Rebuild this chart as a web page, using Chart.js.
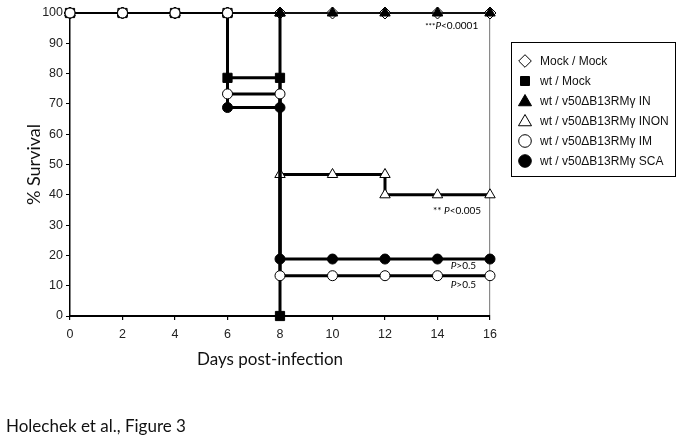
<!DOCTYPE html>
<html>
<head>
<meta charset="utf-8">
<script src="https://cdn.jsdelivr.net/npm/chart.js@4"></script>
<style>
  html, body { margin: 0; padding: 0; background: #fff; }
  canvas { display: block; }
</style>
</head>
<body>
<canvas id="surv" width="683" height="442"></canvas>
<script>
// Kaplan-Meier steps (day, % survival)
const mockMockDays = [0, 2, 4, 6, 8, 10, 12, 14, 16];
const mockMockSurv = [100, 100, 100, 100, 100, 100, 100, 100, 100];
const wtMockDays = [0, 2, 4, 6, 6, 8, 8];
const wtMockSurv = [100, 100, 100, 100, 78.6, 78.6, 0];
const inDays = [0, 2, 4, 6, 8, 10, 12, 14, 16];
const inSurv = [100, 100, 100, 100, 100, 100, 100, 100, 100];
const inonDays = [0, 2, 4, 6, 8, 8, 10, 12, 12, 14, 16];
const inonSurv = [100, 100, 100, 100, 100, 46.7, 46.7, 46.7, 40, 40, 40];
const imDays = [0, 2, 4, 6, 6, 8, 8, 10, 12, 14, 16];
const imSurv = [100, 100, 100, 100, 73.3, 73.3, 13.3, 13.3, 13.3, 13.3, 13.3];
const scaDays = [0, 2, 4, 6, 6, 8, 8, 10, 12, 14, 16];
const scaSurv = [100, 100, 100, 100, 68.8, 68.8, 18.8, 18.8, 18.8, 18.8, 18.8];

const seriesNames = [
  "Mock / Mock",
  "wt / Mock",
  "wt / v50ΔB13RMγ IN",
  "wt / v50ΔB13RMγ INON",
  "wt / v50ΔB13RMγ IM",
  "wt / v50ΔB13RMγ SCA"
];

const pLabels = ["***", "P", "<0.0001", "** ", "P", "<0.005", "P", ">0.5"];

// look of each series (same order as seriesNames)
const looks = [
  { shape: "rectRot", r: 6, fill: "#fff", width: 1.5, order: 5 },
  { shape: "rect", r: 6.5, fill: "#000", width: 3, order: 4 },
  { shape: "triangle", r: 6, fill: "#000", width: 1.5, order: 1 },
  { shape: "triangle", r: 6, fill: "#fff", width: 3, order: 3 },
  { shape: "circle", r: 5, fill: "#fff", width: 3, order: 0 },
  { shape: "circle", r: 5, fill: "#000", width: 3, order: 2 }
];

const allDays = [mockMockDays, wtMockDays, inDays, inonDays, imDays, scaDays];
const allSurv = [mockMockSurv, wtMockSurv, inSurv, inonSurv, imSurv, scaSurv];

const datasets = seriesNames.map((name, i) => {
  const lk = looks[i];
  return {
    label: name,
    data: allDays[i].map((d, j) => ({ x: d, y: allSurv[i][j] })),
    borderColor: "#000",
    borderWidth: lk.width,
    pointStyle: lk.shape,
    pointRadius: lk.r,
    pointBackgroundColor: lk.fill,
    pointBorderColor: "#000",
    pointBorderWidth: 1,
    order: lk.order,
    clip: false,
    segment: {
      // the shared 100 % line is drawn thin
      borderWidth: c => (c.p0.parsed.y === 100 && c.p1.parsed.y === 100) ? 1.5 : lk.width
    }
  };
});

function mark(ctx, shape, x, y, r, fill) {
  ctx.beginPath();
  if (shape === "circle") {
    ctx.arc(x, y, r, 0, Math.PI * 2);
  } else if (shape === "rect") {
    ctx.rect(x - r, y - r, 2 * r, 2 * r);
  } else if (shape === "rectRot") {
    ctx.moveTo(x, y - r); ctx.lineTo(x + r, y); ctx.lineTo(x, y + r); ctx.lineTo(x - r, y);
    ctx.closePath();
  } else if (shape === "triangle") {
    ctx.moveTo(x, y - r); ctx.lineTo(x + r * 0.87, y + r * 0.5); ctx.lineTo(x - r * 0.87, y + r * 0.5);
    ctx.closePath();
  }
  ctx.fillStyle = fill;
  ctx.fill();
  ctx.lineWidth = 1;
  ctx.strokeStyle = "#000";
  ctx.stroke();
}

// draw text runs right-aligned at (x, y), some italic
function runs(ctx, parts, x, y, size) {
  let w = 0;
  parts.forEach(p => {
    ctx.font = (p.i ? "italic " : "") + (p.s || size) + "px Lato";
    w += ctx.measureText(p.t).width;
  });
  let cx = x - w;
  parts.forEach(p => {
    ctx.font = (p.i ? "italic " : "") + (p.s || size) + "px Lato";
    ctx.fillText(p.t, cx, y);
    cx += ctx.measureText(p.t).width;
  });
}

const notes = [
  { parts: [{ t: pLabels[0], s: 8 }, { t: pLabels[1], i: true }, { t: pLabels[2] }], day: 15.55, surv: 95.7 },
  { parts: [{ t: pLabels[3] }, { t: pLabels[4], i: true }, { t: pLabels[5] }], day: 15.66, surv: 34.7 },
  { parts: [{ t: pLabels[6], i: true }, { t: pLabels[7] }], day: 15.47, surv: 16.5 },
  { parts: [{ t: pLabels[6], i: true }, { t: pLabels[7] }], day: 15.47, surv: 10.2 }
];

const extras = {
  id: "extras",
  afterDraw(chart) {
    const ctx = chart.ctx;
    const sx = chart.scales.x, sy = chart.scales.y;
    ctx.save();
    ctx.fillStyle = "#000";
    ctx.textBaseline = "middle";
    notes.forEach(n => runs(ctx, n.parts, sx.getPixelForValue(n.day), sy.getPixelForValue(n.surv), 10));

    // x axis title
    ctx.font = "17px Lato";
    ctx.textAlign = "center";
    ctx.fillStyle = "#111";
    ctx.fillText("Days post-infection", (chart.chartArea.left + chart.chartArea.right) / 2 - 10, 360);

    // caption
    ctx.textAlign = "left";
    ctx.font = "17px Lato";
    ctx.fillText("Holechek et al., Figure 3", 6, 427);

    // legend box
    ctx.lineWidth = 1;
    ctx.strokeStyle = "#000";
    ctx.strokeRect(511.5, 42.5, 164, 134);
    ctx.font = "12px 'Liberation Sans'";
    seriesNames.forEach((name, i) => {
      const y = 61 + i * 20;
      const lk = looks[i];
      const r = lk.shape === "rect" ? 4.5 : lk.shape === "triangle" ? 7.5 : 6.3;
      mark(ctx, lk.shape, 525, lk.shape === "triangle" ? y + 1 : y, r, lk.fill);
      ctx.fillStyle = "#111";
      ctx.fillText(name, 540, y + 1);
    });
    ctx.restore();
  }
};

new Chart(document.getElementById("surv"), {
  type: "line",
  data: { datasets },
  options: {
    responsive: false,
    animation: false,
    devicePixelRatio: 1,
    layout: { padding: { left: 0, right: 193, top: 13, bottom: 0 } },
    plugins: { legend: { display: false }, tooltip: { enabled: false } },
    elements: { line: { tension: 0 } },
    scales: {
      x: {
        type: "linear",
        min: 0, max: 16,
        afterFit: s => { s.height = 126; },
        ticks: { stepSize: 2, padding: 7, color: "#222", font: { family: "Liberation Sans", size: 12.5 } },
        grid: {
          drawOnChartArea: true,
          color: c => c.tick && c.tick.value === 16 ? "#8a8a8a" : "rgba(0,0,0,0)",
          lineWidth: 1.2,
          tickColor: "#000",
          tickLength: 4
        },
        border: { color: "#000", width: 2 }
      },
      y: {
        min: 0, max: 100,
        afterFit: s => { s.width = 70; },
        ticks: { stepSize: 10, padding: 3, color: "#222", font: { family: "Liberation Sans", size: 12.5 } },
        grid: { drawOnChartArea: false, tickColor: "#000", tickLength: 4 },
        border: { color: "#000", width: 1.5 },
        title: {
          display: true,
          text: "% Survival",
          color: "#111",
          font: { family: "Lato", size: 18 },
          padding: { top: 23, bottom: 0 }
        }
      }
    }
  },
  plugins: [extras]
});
</script>
</body>
</html>
